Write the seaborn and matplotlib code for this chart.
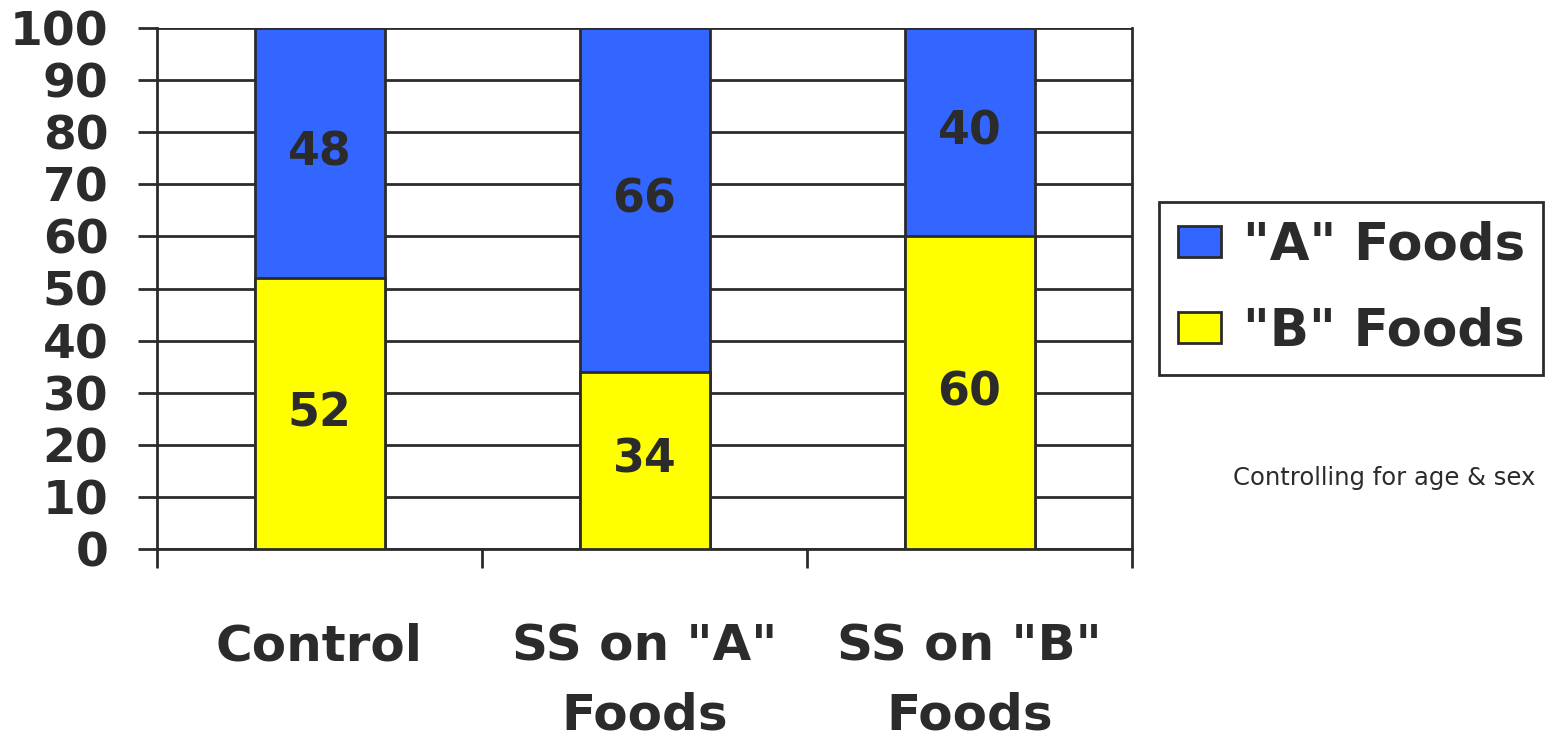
import matplotlib
matplotlib.use("Agg")
import matplotlib.pyplot as plt
import seaborn as sns
import pandas as pd
from matplotlib.patches import Patch

categories = ["Control", 'SS on "A"\nFoods', 'SS on "B"\nFoods']
a_foods = [48, 66, 40]
b_foods = [52, 34, 60]
y_ticks = [0, 10, 20, 30, 40, 50, 60, 70, 80, 90, 100]

BLUE = "#3366FF"
YELLOW = "#FFFF00"
INK = "#2b2b2b"

sns.set_theme(style="white")
plt.rcParams["font.family"] = ["DejaVu Sans"]

df = pd.DataFrame({"cat": categories, "A": a_foods, "B": b_foods})
df["total"] = df["A"] + df["B"]

fig = plt.figure(figsize=(15.53, 7.46), dpi=100)
ax = fig.add_axes([157 / 1553, 1 - 549 / 746, 975 / 1553, 521 / 746])

# horizontal grid behind the bars
for v in y_ticks:
    ax.axhline(v, color=INK, lw=2, zorder=0)

# stacked bars: full stack in blue, lower part in yellow on top
sns.barplot(data=df, x="cat", y="total", color=BLUE, width=0.4,
            edgecolor=INK, linewidth=2, saturation=1, ax=ax, zorder=2)
sns.barplot(data=df, x="cat", y="B", color=YELLOW, width=0.4,
            edgecolor=INK, linewidth=2, saturation=1, ax=ax, zorder=3)

# value labels centred in each segment
for i, (a, b) in enumerate(zip(a_foods, b_foods)):
    ax.text(i, b / 2, str(b), ha="center", va="center", fontsize=33,
            fontweight="bold", color=INK, zorder=5)
    ax.text(i, b + a / 2, str(a), ha="center", va="center", fontsize=33,
            fontweight="bold", color=INK, zorder=5)

ax.set_xlim(-0.5, 2.5)
ax.set_ylim(0, 100)
ax.set_yticks(y_ticks)
ax.set_yticklabels([str(v) for v in y_ticks], fontsize=34, fontweight="bold",
                   color=INK)
ax.tick_params(axis="y", left=True, length=14, width=2, color=INK, pad=21)

ax.set_xticks(range(len(categories)))
ax.set_xticklabels(categories, fontsize=36, fontweight="bold", color=INK,
                   linespacing=1.55)
ax.tick_params(axis="x", bottom=True, length=0, pad=53)
ax.set_xticks([-0.5, 0.5, 1.5, 2.5], minor=True)
ax.tick_params(axis="x", which="minor", bottom=True, length=14, width=2,
               color=INK)

ax.set_xlabel("")
ax.set_ylabel("")
for side in ["left", "right", "bottom"]:
    ax.spines[side].set_visible(True)
    ax.spines[side].set_color(INK)
    ax.spines[side].set_linewidth(2)
ax.spines["top"].set_visible(False)

handles = [Patch(facecolor=BLUE, edgecolor=INK, linewidth=2, label='"A" Foods'),
           Patch(facecolor=YELLOW, edgecolor=INK, linewidth=2, label='"B" Foods')]
leg = fig.legend(handles=handles, loc="upper left",
                 bbox_to_anchor=(1159 / 1553, 1 - 202 / 746),
                 frameon=True, fancybox=False, edgecolor=INK, framealpha=1,
                 prop={"weight": "bold", "size": 37},
                 handlelength=0.85, handleheight=0.55, handletextpad=0.42,
                 labelspacing=0.7, borderpad=0.36, borderaxespad=0)
leg.get_frame().set_linewidth(2)
for t in leg.get_texts():
    t.set_color(INK)

fig.text(1535 / 1553, 1 - 478 / 746, "Controlling for age & sex",
         ha="right", va="center", fontsize=17.5, color=INK)

fig.savefig("out.png", dpi=100, facecolor="white")
